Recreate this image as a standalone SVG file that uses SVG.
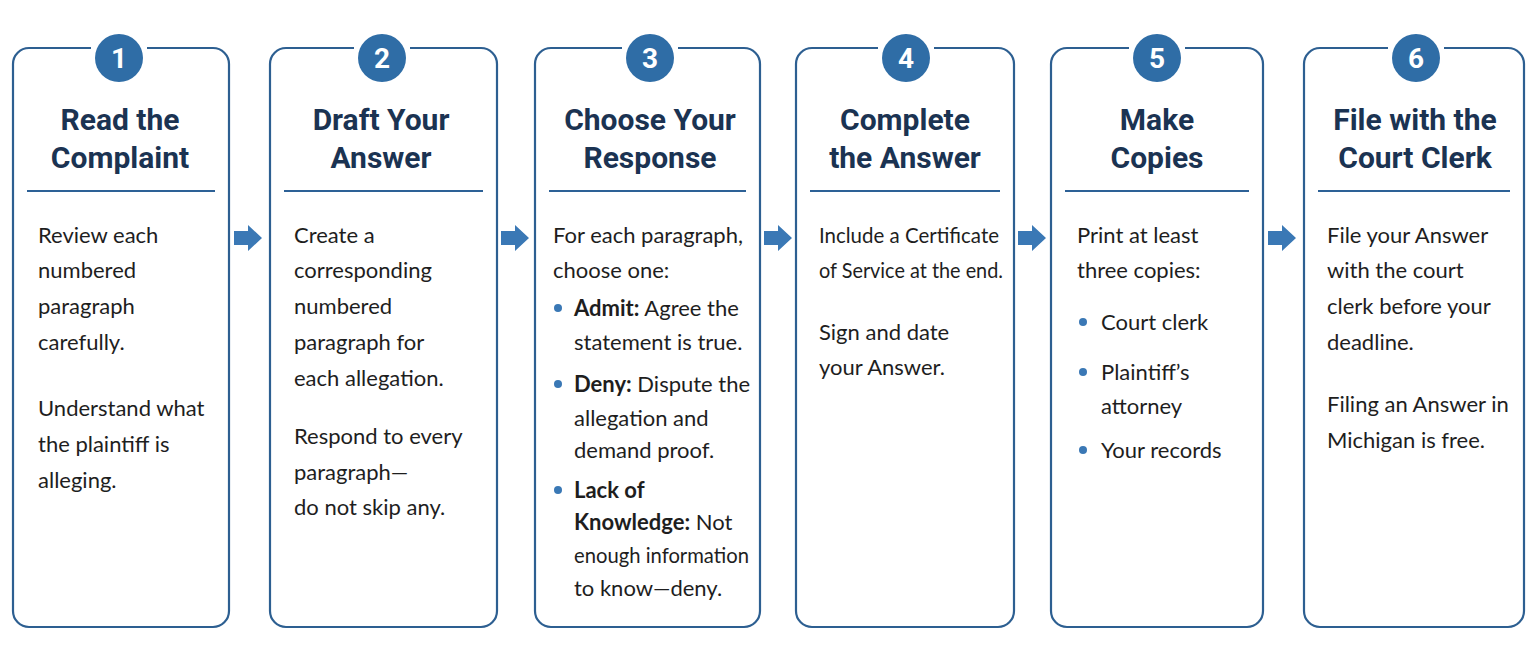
<svg xmlns="http://www.w3.org/2000/svg" width="1536" height="660" viewBox="0 0 1536 660">
<defs>
<style>
.card{fill:#ffffff;stroke:#2d5f91;stroke-width:2.2}
.gap{fill:#ffffff;stroke:none}
.num{fill:#2f6da6}
.numt{fill:#ffffff;font-family:Roboto,"Liberation Sans",sans-serif;font-weight:700;font-size:28px;text-anchor:middle}
.title{fill:#1b3352;font-family:Roboto,"Liberation Sans",sans-serif;font-weight:700;font-size:30px;text-anchor:middle}
.div{stroke:#2d6196;stroke-width:2}
.body{fill:#1e1e1e;font-family:Lato,"Liberation Sans",sans-serif;font-size:22px}
.b{font-weight:700}
.dot{fill:#3a78b5}
.arrow{fill:#3a78b5}
</style>
<path id="arr" d="M0,-7 H14 V-13 L28,0 L14,13 V7 H0 Z"/>
</defs>
<rect width="1536" height="660" fill="#ffffff"/>

<g id="connectors">
<use href="#arr" class="arrow" x="234" y="238"/>
<use href="#arr" class="arrow" x="501" y="238"/>
<use href="#arr" class="arrow" x="764" y="238"/>
<use href="#arr" class="arrow" x="1018" y="238"/>
<use href="#arr" class="arrow" x="1268" y="238"/>
</g>

<g id="step1">
<rect class="card" x="13" y="48" width="216" height="579" rx="16"/>
<rect class="gap" x="91" y="40" width="56" height="16"/>
<circle class="num" cx="119" cy="58" r="24"/>
<text class="numt" x="119" y="68">1</text>
<text class="title" x="120" y="130">Read the</text>
<text class="title" x="120" y="168">Complaint</text>
<line class="div" x1="27" y1="191" x2="215" y2="191"/>
<text class="body" x="38" y="243">Review each</text>
<text class="body" x="38" y="278">numbered</text>
<text class="body" x="38" y="314">paragraph</text>
<text class="body" x="38" y="350">carefully.</text>
<text class="body" x="38" y="416">Understand what</text>
<text class="body" x="38" y="452">the plaintiff is</text>
<text class="body" x="38" y="488">alleging.</text>
</g>

<g id="step2">
<rect class="card" x="270" y="48" width="227" height="579" rx="16"/>
<rect class="gap" x="354" y="40" width="56" height="16"/>
<circle class="num" cx="382" cy="58" r="24"/>
<text class="numt" x="382" y="68">2</text>
<text class="title" x="381" y="130">Draft Your</text>
<text class="title" x="381" y="168">Answer</text>
<line class="div" x1="284" y1="191" x2="483" y2="191"/>
<text class="body" x="294" y="243">Create a</text>
<text class="body" x="294" y="278">corresponding</text>
<text class="body" x="294" y="314">numbered</text>
<text class="body" x="294" y="350">paragraph for</text>
<text class="body" x="294" y="386">each allegation.</text>
<text class="body" x="294" y="444">Respond to every</text>
<text class="body" x="294" y="480">paragraph—</text>
<text class="body" x="294" y="515">do not skip any.</text>
</g>

<g id="step3">
<rect class="card" x="535" y="48" width="225" height="579" rx="16"/>
<rect class="gap" x="622" y="40" width="56" height="16"/>
<circle class="num" cx="650" cy="58" r="24"/>
<text class="numt" x="650" y="68">3</text>
<text class="title" x="650" y="130">Choose Your</text>
<text class="title" x="650" y="168">Response</text>
<line class="div" x1="549" y1="191" x2="746" y2="191"/>
<text class="body" x="553" y="243">For each paragraph,</text>
<text class="body" x="553" y="278">choose one:</text>
<circle class="dot" cx="558" cy="308" r="4"/>
<text class="body" x="574" y="316"><tspan class="b">Admit:</tspan> Agree the</text>
<text class="body" x="574" y="350">statement is true.</text>
<circle class="dot" cx="558" cy="384" r="4"/>
<text class="body" x="574" y="392"><tspan class="b">Deny:</tspan> Dispute the</text>
<text class="body" x="574" y="426">allegation and</text>
<text class="body" x="574" y="458">demand proof.</text>
<circle class="dot" cx="558" cy="490" r="4"/>
<text class="body b" x="574" y="498">Lack of</text>
<text class="body" x="574" y="530"><tspan class="b">Knowledge:</tspan> Not</text>
<text class="body" x="574" y="563" textLength="175" lengthAdjust="spacingAndGlyphs">enough information</text>
<text class="body" x="574" y="596">to know—deny.</text>
</g>

<g id="step4">
<rect class="card" x="796" y="48" width="218" height="579" rx="16"/>
<rect class="gap" x="878" y="40" width="56" height="16"/>
<circle class="num" cx="906" cy="58" r="24"/>
<text class="numt" x="906" y="68">4</text>
<text class="title" x="905" y="130">Complete</text>
<text class="title" x="905" y="168">the Answer</text>
<line class="div" x1="810" y1="191" x2="1000" y2="191"/>
<text class="body" x="819" y="243" textLength="180" lengthAdjust="spacingAndGlyphs">Include a Certificate</text>
<text class="body" x="819" y="278" textLength="184" lengthAdjust="spacingAndGlyphs">of Service at the end.</text>
<text class="body" x="819" y="340">Sign and date</text>
<text class="body" x="819" y="375">your Answer.</text>
</g>

<g id="step5">
<rect class="card" x="1051" y="48" width="212" height="579" rx="16"/>
<rect class="gap" x="1129" y="40" width="56" height="16"/>
<circle class="num" cx="1157" cy="58" r="24"/>
<text class="numt" x="1157" y="68">5</text>
<text class="title" x="1157" y="130">Make</text>
<text class="title" x="1157" y="168">Copies</text>
<line class="div" x1="1065" y1="191" x2="1249" y2="191"/>
<text class="body" x="1077" y="243">Print at least</text>
<text class="body" x="1077" y="278">three copies:</text>
<circle class="dot" cx="1083" cy="322" r="4"/>
<text class="body" x="1101" y="330">Court clerk</text>
<circle class="dot" cx="1083" cy="372" r="4"/>
<text class="body" x="1101" y="380">Plaintiff’s</text>
<text class="body" x="1101" y="414">attorney</text>
<circle class="dot" cx="1083" cy="450" r="4"/>
<text class="body" x="1101" y="458">Your records</text>
</g>

<g id="step6">
<rect class="card" x="1304" y="48" width="220" height="579" rx="16"/>
<rect class="gap" x="1388" y="40" width="56" height="16"/>
<circle class="num" cx="1416" cy="58" r="24"/>
<text class="numt" x="1416" y="68">6</text>
<text class="title" x="1415" y="130">File with the</text>
<text class="title" x="1415" y="168">Court Clerk</text>
<line class="div" x1="1318" y1="191" x2="1510" y2="191"/>
<text class="body" x="1327" y="243">File your Answer</text>
<text class="body" x="1327" y="278">with the court</text>
<text class="body" x="1327" y="314">clerk before your</text>
<text class="body" x="1327" y="350">deadline.</text>
<text class="body" x="1327" y="412">Filing an Answer in</text>
<text class="body" x="1327" y="448">Michigan is free.</text>
</g>
</svg>
